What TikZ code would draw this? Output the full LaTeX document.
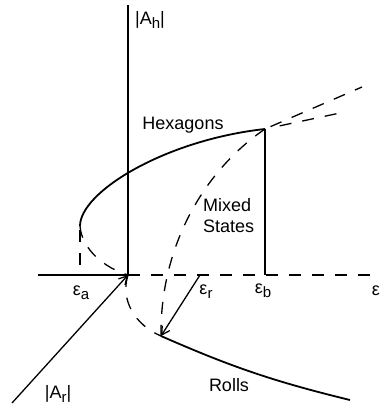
\documentclass[tikz,border=0pt]{standalone}
\usepackage{fontspec}
\setmainfont{Liberation Sans}
\usetikzlibrary{arrows.meta}
\newcommand{\lowsub}[1]{\raisebox{-4pt}{\fontsize{15}{15}\selectfont #1}}

\begin{document}
\begin{tikzpicture}[x=1pt,y=-1pt,>={Straight Barb[length=8pt,width=9pt]},
  every node/.style={font=\fontsize{18}{21}\selectfont, inner sep=0pt},
  axis/.style={line width=1.3pt},
  stable/.style={line width=1.8pt},
  unstable/.style={line width=1.3pt, dash pattern=on 12pt off 11pt}]
\useasboundingbox (0,0) rectangle (386,406);

\coordinate (O) at (128,275);
\coordinate (top) at (128,5);
\coordinate (left) at (38,275);
\coordinate (right) at (373,275);
\coordinate (nose) at (80,226);
\coordinate (Ea) at (80,272);
\coordinate (Er) at (200,275);
\coordinate (B) at (265,129);
\coordinate (Eb) at (265,275);
\coordinate (R) at (161,336);
\coordinate (Rend) at (350,400);
\coordinate (Aend) at (12,403);
\coordinate (up1) at (362,87);
\coordinate (up2) at (340,113);

\node (Ah) at (150,20) {|A\lowsub{h}|};
\node (Hex) at (183,125) {Hexagons};
\node[anchor=west, align=left] (Mix) at (203,216) {Mixed\\States};
\node (ea) at (81,293) {ε\lowsub{a}};
\node (er) at (206,292) {ε\lowsub{r}};
\node (eb) at (263,291) {ε\lowsub{b}};
\node (e) at (376,291) {ε};
\node (Ar) at (58,394) {|A\lowsub{r}|};
\node (Rolls) at (229,385) {Rolls};

\draw[axis] (top) -- (O);
\draw[axis] (left) -- (O);
\draw[unstable] (O) -- (right);
\draw[->,axis] (Aend) -- (O);
\draw[stable] (nose) .. controls (80,192) and (165,140) .. (B);
\draw[unstable] (nose) .. controls (82,250) and (105,268) .. (O);
\draw[unstable, shorten <=4pt] (nose) -- (Ea);
\draw[unstable] (O) .. controls (120,300) and (135,325) .. (R);
\draw[unstable] (B) .. controls (205,170) and (160,245) .. (R);
\draw[axis] (B) -- (Eb);
\draw[->,axis] (Er) -- (R);
\draw[stable] (R) to[bend right=5] (Rend);
\draw[unstable, shorten <=6pt] (B) -- (up1);
\draw[unstable, shorten <=15pt] (B) -- (up2);
\end{tikzpicture}
\end{document}
